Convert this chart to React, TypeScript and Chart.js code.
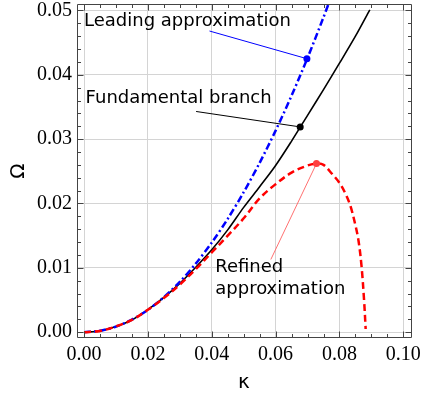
import React, { useEffect, useRef } from 'react';
import { Chart, registerables } from 'chart.js';

Chart.register(...registerables);

// Fundamental branch (black solid)
const fundKappa = [0, 0.005, 0.01, 0.015, 0.02, 0.025, 0.03, 0.035, 0.04, 0.045, 0.05, 0.055, 0.06, 0.065, 0.07, 0.075, 0.08, 0.085, 0.0895];
const fundOmega = [0, 0.0002, 0.0009, 0.0019, 0.0035, 0.0054, 0.0076, 0.0101, 0.0128, 0.0159, 0.0194, 0.0226, 0.0259, 0.0297, 0.0337, 0.0377, 0.0418, 0.046, 0.0501];

// Leading approximation (blue dash-dot)
const leadKappa = [0, 0.005, 0.01, 0.015, 0.02, 0.025, 0.03, 0.035, 0.04, 0.045, 0.05, 0.055, 0.06, 0.065, 0.07, 0.075, 0.077];
const leadOmega = [0, 0.00022, 0.00087, 0.00196, 0.00348, 0.00544, 0.00783, 0.01066, 0.01392, 0.01762, 0.02175, 0.02632, 0.03132, 0.03676, 0.04263, 0.04894, 0.0516];

// Refined approximation (red dashed)
const refKappa = [0, 0.005, 0.01, 0.015, 0.02, 0.025, 0.03, 0.035, 0.04, 0.045, 0.05, 0.055, 0.06, 0.065, 0.07, 0.0728, 0.075, 0.0775, 0.08, 0.082, 0.0835, 0.085, 0.086, 0.0869, 0.0877, 0.0882];
const refOmega = [0, 0.0002, 0.0009, 0.0019, 0.0035, 0.0053, 0.0074, 0.0098, 0.0124, 0.015, 0.0177, 0.0208, 0.023, 0.0248, 0.0259, 0.0262, 0.026, 0.0247, 0.0232, 0.0214, 0.0195, 0.0166, 0.0141, 0.0103, 0.005, 0.0005];

// Highlighted points
const leadMarker = { k: 0.0698, w: 0.0425 };
const fundMarker = { k: 0.0677, w: 0.0319 };
const refMarker = { k: 0.0728, w: 0.0262 };

// Leader-line start points (label side)
const leadLabelEnd = { k: 0.0393, w: 0.0468 };
const fundLabelEnd = { k: 0.0351, w: 0.0343 };
const refLabelEnd = { k: 0.0585, w: 0.0113 };

// Axis ticks
const xMajorTicks = [0, 0.02, 0.04, 0.06, 0.08, 0.1];
const yMajorTicks = [0, 0.01, 0.02, 0.03, 0.04, 0.05];
const xMinorTicks = [0.005, 0.01, 0.015, 0.025, 0.03, 0.035, 0.045, 0.05, 0.055, 0.065, 0.07, 0.075, 0.085, 0.09, 0.095];
const yMinorTicks = [0.002, 0.004, 0.006, 0.008, 0.012, 0.014, 0.016, 0.018, 0.022, 0.024, 0.026, 0.028, 0.032, 0.034, 0.036, 0.038, 0.042, 0.044, 0.046, 0.048];

// Text annotations (left edge, vertical centre in data units)
const labels = [
  { text: 'Leading approximation', k: 0.0, w: 0.0483 },
  { text: 'Fundamental branch', k: 0.0005, w: 0.0364 },
  { text: 'Refined', k: 0.0411, w: 0.0101 },
  { text: 'approximation', k: 0.0411, w: 0.0066 },
];

const xTitle = 'κ';
const yTitle = 'Ω';

const pts = (ks: number[], ws: number[]) => ks.map((k, i) => ({ x: k, y: ws[i] }));

const framePlugin = {
  id: 'frameTicks',
  afterDatasetsDraw(chart: any) {
    const { ctx, chartArea: a, scales } = chart;
    const x = scales.x;
    const y = scales.y;
    ctx.save();
    ctx.strokeStyle = '#444';
    ctx.lineWidth = 1;
    const L = a.left + 0.5, R = a.right + 0.5, T = a.top + 0.5, B = a.bottom - 0.5;
    ctx.beginPath();
    ctx.rect(L, T, R - L, B - T);
    ctx.stroke();
    const major = 6, minor = 3.5;
    ctx.beginPath();
    const xt = (v: number, len: number) => {
      const p = Math.round(x.getPixelForValue(v)) + 0.5;
      ctx.moveTo(p, B); ctx.lineTo(p, B - len);
      ctx.moveTo(p, T); ctx.lineTo(p, T + len);
    };
    const yt = (v: number, len: number) => {
      const p = Math.round(y.getPixelForValue(v)) + 0.5;
      ctx.moveTo(L, p); ctx.lineTo(L + len, p);
      ctx.moveTo(R, p); ctx.lineTo(R - len, p);
    };
    xMajorTicks.forEach((v) => xt(v, major));
    xMinorTicks.forEach((v) => xt(v, minor));
    yMajorTicks.forEach((v) => yt(v, major));
    yMinorTicks.forEach((v) => yt(v, minor));
    ctx.stroke();

    ctx.fillStyle = '#000';
    ctx.font = '18px "DejaVu Sans"';
    ctx.textBaseline = 'middle';
    ctx.textAlign = 'left';
    labels.forEach((l) => {
      ctx.fillText(l.text, x.getPixelForValue(l.k), y.getPixelForValue(l.w));
    });
    ctx.restore();
  },
};

export default function App() {
  const ref = useRef<HTMLCanvasElement | null>(null);
  useEffect(() => {
    document.body.style.margin = '0';
    const canvas = ref.current;
    if (!canvas) return;
    const chart = new Chart(canvas, {
      type: 'line',
      data: {
        datasets: [
          {
            label: 'Fundamental branch',
            data: pts(fundKappa, fundOmega),
            borderColor: '#000',
            borderWidth: 1.6,
            pointRadius: 0,
            tension: 0.3,
            order: 5,
          },
          {
            label: 'Leading approximation',
            data: pts(leadKappa, leadOmega),
            borderColor: '#0000ff',
            borderWidth: 2.5,
            borderDash: [7, 3, 2, 3],
            pointRadius: 0,
            tension: 0.3,
            order: 4,
          },
          {
            label: 'Refined approximation',
            data: pts(refKappa, refOmega),
            borderColor: '#ff0000',
            borderWidth: 2.5,
            borderDash: [7, 4],
            pointRadius: 0,
            tension: 0.35,
            order: 3,
          },
          {
            label: 'lead leader',
            data: [{ x: leadLabelEnd.k, y: leadLabelEnd.w }, { x: leadMarker.k, y: leadMarker.w }],
            borderColor: '#0000ff',
            borderWidth: 1,
            pointRadius: 0,
            order: 2,
          },
          {
            label: 'fund leader',
            data: [{ x: fundLabelEnd.k, y: fundLabelEnd.w }, { x: fundMarker.k, y: fundMarker.w }],
            borderColor: '#000',
            borderWidth: 1,
            pointRadius: 0,
            order: 2,
          },
          {
            label: 'ref leader',
            data: [{ x: refLabelEnd.k, y: refLabelEnd.w }, { x: refMarker.k, y: refMarker.w }],
            borderColor: '#ff7070',
            borderWidth: 1,
            pointRadius: 0,
            order: 2,
          },
          {
            label: 'markers lead',
            data: [{ x: leadMarker.k, y: leadMarker.w }],
            showLine: false,
            pointRadius: 3.5,
            pointBackgroundColor: '#0000ff',
            pointBorderColor: '#0000ff',
            pointBorderWidth: 0,
            order: 1,
          },
          {
            label: 'markers fund',
            data: [{ x: fundMarker.k, y: fundMarker.w }],
            showLine: false,
            pointRadius: 3.5,
            pointBackgroundColor: '#000',
            pointBorderColor: '#000',
            pointBorderWidth: 0,
            order: 1,
          },
          {
            label: 'markers ref',
            data: [{ x: refMarker.k, y: refMarker.w }],
            showLine: false,
            pointRadius: 3.5,
            pointBackgroundColor: '#ff4040',
            pointBorderColor: '#ff4040',
            pointBorderWidth: 0,
            order: 1,
          },
        ],
      },
      options: {
        animation: false,
        responsive: false,
        events: [],
        layout: { padding: { top: 4, right: 13, left: 0, bottom: 0 } },
        plugins: { legend: { display: false }, tooltip: { enabled: false } },
        scales: {
          x: {
            type: 'linear',
            min: -0.0022,
            max: 0.1024,
            afterBuildTicks: (s: any) => {
              s.ticks = xMajorTicks.map((v) => ({ value: v }));
            },
            afterFit: (s: any) => {
              s.height = 61;
              s.paddingLeft = 0;
              s.paddingRight = 0;
            },
            grid: { color: '#d4d4d4', lineWidth: 1, drawTicks: false },
            border: { display: false },
            ticks: {
              padding: 5,
              color: '#000',
              font: { family: '"Liberation Serif"', size: 20 },
              callback: (v: any) => Number(v).toFixed(2),
              maxRotation: 0,
              autoSkip: false,
            },
            title: {
              display: true,
              text: xTitle,
              color: '#000',
              font: { family: '"DejaVu Sans"', size: 20 },
              padding: { top: 0, bottom: 4 },
            },
          },
          y: {
            type: 'linear',
            min: -0.0009,
            max: 0.051,
            afterBuildTicks: (s: any) => {
              s.ticks = yMajorTicks.map((v) => ({ value: v }));
            },
            afterFit: (s: any) => {
              s.width = 77;
              s.paddingTop = 0;
              s.paddingBottom = 0;
            },
            grid: { color: '#d4d4d4', lineWidth: 1, drawTicks: false },
            border: { display: false },
            ticks: {
              padding: 5,
              color: '#000',
              font: { family: '"Liberation Serif"', size: 20 },
              callback: (v: any) => Number(v).toFixed(2),
              autoSkip: false,
            },
            title: {
              display: true,
              text: yTitle,
              color: '#000',
              font: { family: '"DejaVu Sans"', size: 20 },
              padding: { top: 6.5, bottom: 0 },
            },
          },
        },
      },
      plugins: [framePlugin],
    } as any);
    return () => chart.destroy();
  }, []);
  return <canvas ref={ref} width={424} height={399} style={{ display: 'block' }} />;
}
